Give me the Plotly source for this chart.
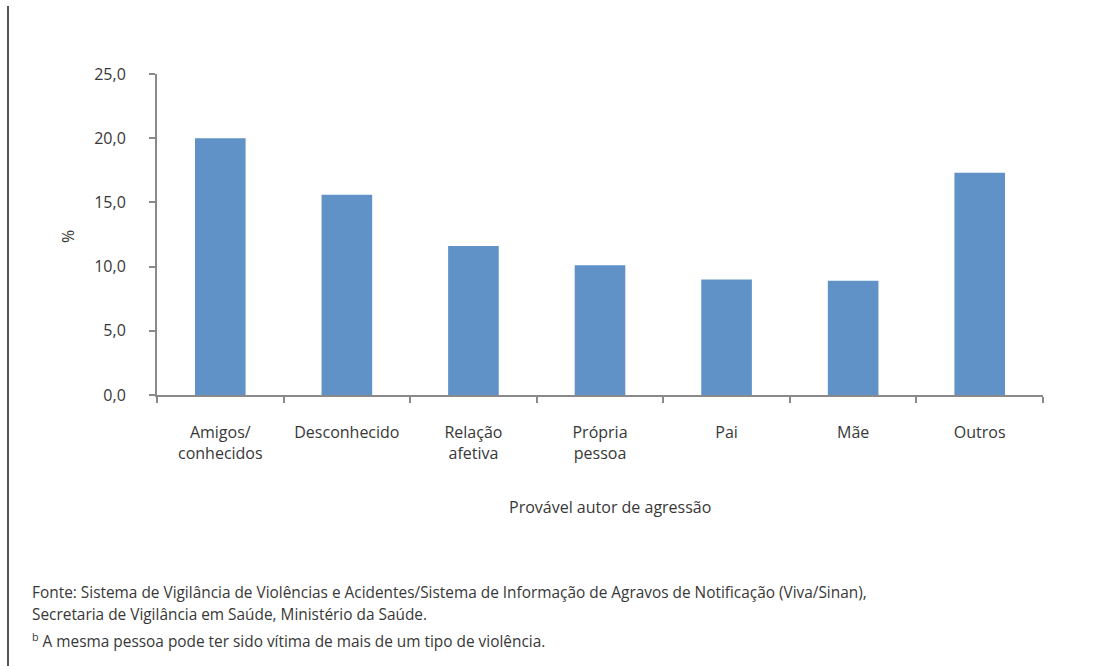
import plotly.graph_objects as go

# Provável autor de agressão — percent of notifications
categorias = ["Amigos/<br>conhecidos", "Desconhecido", "Relação<br>afetiva",
              "Própria<br>pessoa", "Pai", "Mãe", "Outros"]
percentuais = [20.0, 15.6, 11.6, 10.1, 9.0, 8.9, 17.3]

y_ticks = [0, 5, 10, 15, 20, 25]
y_tick_labels = ["0,0", "5,0", "10,0", "15,0", "20,0", "25,0"]

W, H = 1112, 666
L, R, T, B = 157, 1043, 74, 395  # plot area in pixels
pw, ph = R - L, B - T

def px(x):
    return (x - L) / pw

def py(y):
    return (B - y) / ph

FONT = "Open Sans"
TXT = "#383838"
AXIS = "#8a8a8a"

fig = go.Figure(go.Bar(
    x=categorias,
    y=percentuais,
    marker=dict(color="#6192c7", line=dict(width=0)),
    width=0.4,
    hoverinfo="x+y",
))

fig.update_layout(
    width=W, height=H,
    margin=dict(l=L, r=W - R, t=T, b=H - B, pad=0),
    paper_bgcolor="white", plot_bgcolor="white",
    showlegend=False,
    font=dict(family=FONT, size=16, color=TXT),
    xaxis=dict(
        type="category",
        tickson="boundaries",
        ticks="outside", ticklen=6, tickwidth=1.5, tickcolor=AXIS,
        showline=True, linecolor=AXIS, linewidth=2,
        showgrid=False, zeroline=False,
        ticklabelstandoff=22,
        tickfont=dict(family=FONT, size=16, color=TXT),
        fixedrange=True,
    ),
    yaxis=dict(
        range=[0, 25],
        tickvals=y_ticks, ticktext=y_tick_labels,
        ticks="outside", ticklen=6, tickwidth=1.5, tickcolor=AXIS,
        showline=True, linecolor=AXIS, linewidth=2,
        showgrid=False, zeroline=False,
        ticklabelstandoff=20,
        tickfont=dict(family=FONT, size=16, color=TXT),
        fixedrange=True,
    ),
)

annotations = [
    dict(text="%", textangle=-90, x=px(68), y=py(237), xref="paper", yref="paper",
         xanchor="center", yanchor="middle", showarrow=False,
         font=dict(family=FONT, size=16, color=TXT)),
    dict(text="Provável autor de agressão", x=px(610), y=py(507), xref="paper", yref="paper",
         xanchor="center", yanchor="middle", showarrow=False,
         font=dict(family=FONT, size=16, color=TXT)),
    dict(text="Fonte: Sistema de Vigilância de Violências e Acidentes/Sistema de Informação de Agravos de Notificação (Viva/Sinan),",
         x=px(30), y=py(592), xref="paper", yref="paper",
         xanchor="left", yanchor="middle", showarrow=False,
         font=dict(family=FONT, size=15.4, color=TXT)),
    dict(text="Secretaria de Vigilância em Saúde, Ministério da Saúde.",
         x=px(30), y=py(614), xref="paper", yref="paper",
         xanchor="left", yanchor="middle", showarrow=False,
         font=dict(family=FONT, size=15.4, color=TXT)),
    dict(text="<sup>b</sup> A mesma pessoa pode ter sido vítima de mais de um tipo de violência.",
         x=px(30), y=py(640), xref="paper", yref="paper",
         xanchor="left", yanchor="middle", showarrow=False,
         font=dict(family=FONT, size=15.4, color=TXT)),
]
fig.update_layout(annotations=annotations)

# frame rule along the left edge of the page
fig.add_shape(type="line", xref="paper", yref="paper",
              x0=px(8), x1=px(8), y0=py(6), y1=py(666),
              line=dict(color="#555555", width=2))

fig.write_html("out.html")
